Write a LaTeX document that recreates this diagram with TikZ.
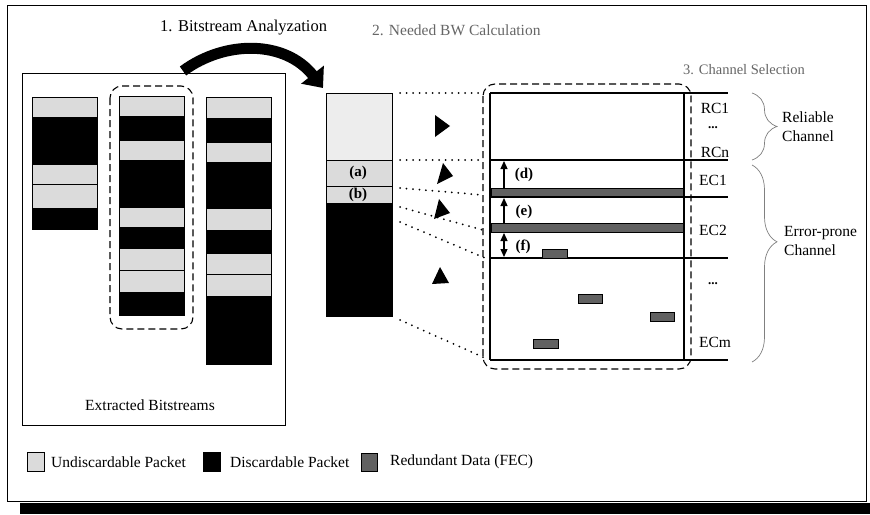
\documentclass[tikz,border=0pt]{standalone}
\usepackage{fontspec}
\setmainfont{Liberation Serif}
\usetikzlibrary{arrows.meta,decorations.pathreplacing,calc}
\begin{document}
\begin{tikzpicture}[x=1pt,y=-1pt,
  lt/.style={draw=black,line width=0.7pt,fill=black!14},
  ltt/.style={draw=black,line width=0.7pt,fill=black!7},
  dk/.style={draw=black,line width=0.7pt,fill=black},
  fec/.style={draw=black,line width=0.5pt,fill=black!62},
  lbl/.style={font=\fontsize{15.5}{19}\selectfont,inner sep=0pt},
  blbl/.style={font=\fontsize{15}{18}\selectfont\bfseries,inner sep=0pt},
  dotline/.style={line width=2pt,dash pattern=on 0pt off 6.5pt,line cap=round},
  dashbox/.style={line width=1.1pt,rounded corners=12pt,dash pattern=on 7pt off 4pt},
  brc/.style={draw=black!50,line width=0.7pt,decorate},
  chline/.style={line width=1.3pt},
  trifill/.style={fill=black},
  mtip/.style={line width=1.2pt},
  ]
\useasboundingbox (0,0) rectangle (870,514);
\fill[white] (0,0) rectangle (870,514);
% outer frame and shadow
\draw[line width=0.9pt] (7,5) rectangle (866,501);
\fill[black] (20,503) rectangle (870,514);

% titles
\node[lbl,anchor=west,font=\fontsize{16.5}{19}\selectfont] (t1) at (160,28) {1. Bitstream Analyzation};
\node[lbl,anchor=west,text=black!60] (t2) at (372,30) {2. Needed BW Calculation};
\node[lbl,anchor=west,text=black!60,font=\fontsize{14.5}{17}\selectfont] (t3) at (683,70) {3. Channel Selection};

% extracted bitstreams box
\draw[line width=0.9pt] (22,73) rectangle (285,425);
\node[lbl] (ext) at (150,405) {Extracted Bitstreams};

% column 1
\foreach \a/\b/\s in {97/117/lt,117/164/dk,164/184/lt,184/208/lt,208/229/dk}
  \draw[\s] (32,\a) rectangle (97,\b);
% column 2
\foreach \a/\b/\s in {96/116/lt,116/140/dk,140/160/lt,160/207/dk,207/227/lt,227/248/dk,248/270/lt,270/292/lt,292/315/dk}
  \draw[\s] (119,\a) rectangle (184,\b);
% column 3
\foreach \a/\b/\s in {97/118/lt,118/142/dk,142/162/lt,162/208/dk,208/230/lt,230/253/dk,253/274/lt,274/296/lt,296/364/dk}
  \draw[\s] (206,\a) rectangle (271,\b);
% dashed selection round column 2
\draw[dashbox] (110,86) rectangle (193,329);

% curved arrow
\draw[line width=11pt,-{Triangle[length=17pt,width=28pt]}] (183,71) .. controls (225,40) and (285,40) .. (323,88);

% needed BW column
\draw[ltt] (326,93) rectangle (392,160);
\draw[lt] (326,160) rectangle (392,186);
\draw[lt] (326,186) rectangle (392,203);
\draw[dk] (326,203) rectangle (392,316);
\node[blbl] (a) at (358,173) {(a)};
\node[blbl] (b) at (358,195) {(b)};

% dotted connectors
\coordinate (s0) at (400,93);  \coordinate (e0) at (483,93);
\coordinate (s1) at (400,160); \coordinate (e1) at (483,160);
\coordinate (s2) at (400,188); \coordinate (e2) at (483,195);
\coordinate (s3) at (400,207); \coordinate (e3) at (483,230);
\coordinate (s4) at (400,222); \coordinate (e4) at (485,258);
\coordinate (s5) at (400,320); \coordinate (e5) at (485,358);
\foreach \i in {0,...,5} \draw[dotline] (s\i) -- (e\i);

% triangles
\fill[trifill] (435,115) -- (435,137) -- (450,126) -- cycle;
\fill[trifill] (437,184) -- (443,163) -- (453,176) -- cycle;
\fill[trifill] (434,219) -- (439,199) -- (450,213) -- cycle;
\fill[trifill] (432,284) -- (440,267) -- (449,283) -- cycle;

% channel box
\foreach \y in {93,160,197,258,360}
  \draw[chline] (490,\y) -- (728,\y);
\draw[chline] (490,93) -- (490,360);
\draw[chline] (684,93) -- (684,360);
\draw[fec] (491,188) rectangle (683,196);
\draw[fec] (491,223) rectangle (683,232);
\draw[fec] (542,249) rectangle (567,258);
\draw[fec] (578,294) rectangle (602,303);
\draw[fec] (650,312) rectangle (674,321);
\draw[fec] (533,339) rectangle (558,348);
\draw[dashbox] (483,84) rectangle (691,369);

% measurement arrows
\draw[mtip,-{Triangle[length=8pt,width=7pt]}] (504,188) -- (504,161);
\draw[mtip,-{Triangle[length=8pt,width=7pt]}] (504,223) -- (504,198);
\draw[mtip,{Triangle[length=8pt,width=7pt]}-{Triangle[length=8pt,width=7pt]}] (504,233) -- (504,257);
\node[blbl] (d) at (524,175) {(d)};
\node[blbl] (e) at (524,212) {(e)};
\node[blbl] (f) at (523,247) {(f)};

% channel labels
\node[lbl] (rc1) at (715,108) {RC1};
\node[lbl,font=\fontsize{13}{14}\selectfont\bfseries] (rcd) at (713,128) {...};
\node[lbl] (rcn) at (715,152) {RCn};
\node[lbl] (ec1) at (713,180) {EC1};
\node[lbl] (ec2) at (713,230) {EC2};
\node[lbl,font=\fontsize{13}{14}\selectfont\bfseries] (ecd) at (713,284) {...};
\node[lbl] (ecm) at (715,342) {ECm};

% braces
\draw[brc,decoration={brace,amplitude=25pt,aspect=0.5}] (752,93) -- (752,160);
\draw[brc,decoration={brace,amplitude=25pt,aspect=0.39}] (752,165) -- (752,362);
\node[lbl,anchor=west,align=left] (rel) at (782,127) {Reliable\\Channel};
\node[lbl,anchor=west,align=left] (err) at (784,241) {Error-prone\\Channel};

% legend
\draw[lt] (27,452) rectangle (44,471);
\node[lbl,anchor=west] (l1) at (51,462) {Undiscardable Packet};
\draw[dk] (203,452) rectangle (220,471);
\node[lbl,anchor=west] (l2) at (230,462) {Discardable Packet};
\draw[fec] (361,453) rectangle (377,471);
\node[lbl,anchor=west] (l3) at (390,462) {Redundant Data (FEC)};
\end{tikzpicture}
\end{document}
